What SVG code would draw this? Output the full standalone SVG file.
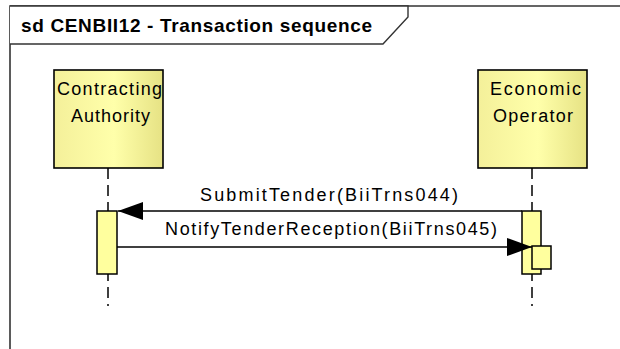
<svg xmlns="http://www.w3.org/2000/svg" width="620" height="349" viewBox="0 0 620 349">
<style>
text{font-family:"Liberation Sans",Arial,sans-serif;fill:#000}
.t{font-size:18px}
.title{font-size:19px;font-weight:bold}
.box{stroke:#000;stroke-width:1.6;fill:url(#g)}
.act{stroke:#000;stroke-width:1.5;fill:#FFFF9E}
.life{stroke:#000;stroke-width:1.5;stroke-dasharray:11 6;fill:none}
.msg{stroke:#000;stroke-width:1.5;fill:none}
</style>
<defs>
<linearGradient id="g" x1="0" y1="0" x2="1" y2="0">
<stop offset="0" stop-color="#F4F09A"/>
<stop offset="0.55" stop-color="#FFFFAA"/>
<stop offset="1" stop-color="#E6E284"/>
</linearGradient>
<marker id="ah" markerWidth="25" markerHeight="18" refX="25" refY="9" orient="auto" markerUnits="userSpaceOnUse">
<path d="M0,0 L25,9 L0,18 Z" fill="#000"/>
</marker>
</defs>
<rect width="620" height="349" fill="#fff"/>
<g id="frame">
<path d="M10,349 L10,6 L620,6" fill="none" stroke="#333" stroke-width="1.6"/>
<path d="M10,6 L408,6 L408,17 L383,44 L10,44" fill="#fff" stroke="#333" stroke-width="1.4"/>
<text class="title" x="21" y="32" textLength="351" lengthAdjust="spacing">sd CENBII12 - Transaction sequence</text>
</g>
<g id="contracting-authority">
<path class="life" d="M108,168 L108,306"/>
<rect class="box" x="54" y="70" width="109" height="98"/>
<text class="t" x="109.5" y="95" text-anchor="middle" textLength="105" lengthAdjust="spacing">Contracting</text>
<text class="t" x="110.5" y="122" text-anchor="middle" textLength="79" lengthAdjust="spacing">Authority</text>
<rect class="act" x="97" y="211" width="20" height="63"/>
</g>
<g id="economic-operator">
<path class="life" d="M532,168 L532,306"/>
<rect class="box" x="478" y="70" width="109" height="98"/>
<text class="t" x="535.5" y="95" text-anchor="middle" textLength="91" lengthAdjust="spacing">Economic</text>
<text class="t" x="533" y="122" text-anchor="middle" textLength="80" lengthAdjust="spacing">Operator</text>
<rect class="act" x="522" y="211" width="19" height="63"/>
<rect class="act" x="532" y="246" width="19" height="23"/>
</g>
<g id="connectors">
<path class="msg" d="M522,211 L118,211" marker-end="url(#ah)"/>
<text class="t" x="200" y="201" textLength="258" lengthAdjust="spacing">SubmitTender(BiiTrns044)</text>
<path class="msg" d="M117,247 L532,247" marker-end="url(#ah)"/>
<text class="t" x="165" y="235" textLength="332" lengthAdjust="spacing">NotifyTenderReception(BiiTrns045)</text>
</g>
</svg>
